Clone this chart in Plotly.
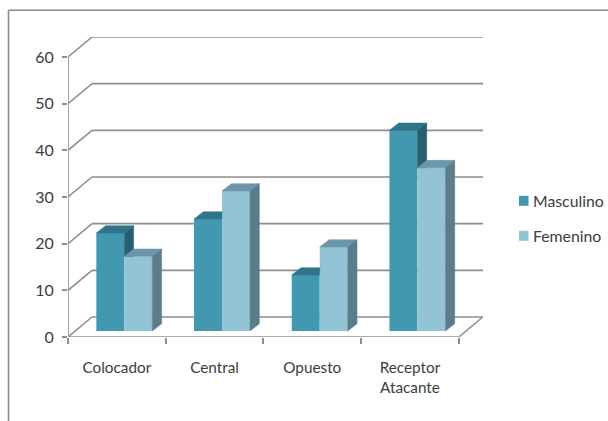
import plotly.graph_objects as go

categories = ["Colocador", "Central", "Opuesto", "Receptor<br>Atacante"]
masculino = [21, 24, 12, 43]
femenino = [16, 30, 18, 35]
y_ticks = [0, 10, 20, 30, 40, 50, 60]
series_names = ["Masculino", "Femenino"]

W, H = 608, 421
L, R, T, B = 68.0, 483.0, 36.7, 336.7
CAT_PX = 97.7
VAL_PX = 280 / 60
xmax = (R - L) / CAT_PX
ymax = (B - T) / VAL_PX
wall_dx, wall_dy = 24 / CAT_PX, 20 / VAL_PX       # depth of the floor
bar_dx, bar_dy = 9.3 / CAT_PX, 7.3 / VAL_PX       # depth of a bar
lift = 6 / VAL_PX                                 # bars stand on the floor
bar_w = 28 / CAT_PX
start = 0.29
n = len(categories)

C_LINE = "#8e8e8e"
M_FRONT, M_TOP, M_SIDE = "#4198b0", "#2f7488", "#265f6f"
F_FRONT, F_TOP, F_SIDE = "#93c4d6", "#6b97a8", "#5b7d8b"
TXT = "#3c3c3c"
FONT = "Lato"


def px_x(p):
    return (p - L) / (R - L)


def px_y(p):
    return (B - p) / (B - T)


def seg(x0, y0, x1, y1, width=1.6):
    return dict(type="line", xref="x", yref="y", x0=x0, y0=y0, x1=x1, y1=y1,
                layer="below", line=dict(color=C_LINE, width=width))


def face(xs, ys, color):
    return go.Scatter(x=xs + xs[:1], y=ys + ys[:1], mode="lines", fill="toself",
                      fillcolor=color, line=dict(color=color, width=0.5),
                      showlegend=False, hoverinfo="skip", cliponaxis=False)


shapes = []
for v in y_ticks:
    shapes.append(seg(wall_dx, v + wall_dy, xmax, v + wall_dy))
    shapes.append(seg(0, v, wall_dx, v + wall_dy))
shapes.append(seg(0, 0, 0, 60))
shapes.append(seg(0, 0, n, 0))
shapes.append(seg(n, 0, n + wall_dx, wall_dy))
# outer chart frame
shapes.append(dict(type="line", xref="paper", yref="paper", layer="below",
                   x0=px_x(8.5), x1=px_x(608), y0=px_y(10), y1=px_y(10),
                   line=dict(color="#8a8a8a", width=1.6)))
shapes.append(dict(type="line", xref="paper", yref="paper", layer="below",
                   x0=px_x(8.5), x1=px_x(8.5), y0=px_y(10), y1=px_y(421),
                   line=dict(color="#8a8a8a", width=1.6)))

# legend keys and labels
annotations = []
for name, color, yc in zip(series_names, [M_FRONT, F_FRONT], [200.5, 235.5]):
    shapes.append(dict(type="rect", xref="paper", yref="paper", layer="above",
                       x0=px_x(519), x1=px_x(528.5), y0=px_y(yc - 5), y1=px_y(yc + 5),
                       fillcolor=color, line_width=0))
    annotations.append(dict(xref="paper", yref="paper", x=px_x(533), y=px_y(yc),
                            xanchor="left", yanchor="middle", text=name, showarrow=False,
                            font=dict(family=FONT, size=15.8, color=TXT),
                            borderpad=0, borderwidth=0))

fig = go.Figure()
idx = list(range(n))
fig.add_trace(go.Bar(x=[i + start + bar_w / 2 for i in idx], y=masculino, base=lift,
                     width=bar_w, name=series_names[0], marker=dict(color=M_FRONT, line_width=0),
                     hoverinfo="y"))
fig.add_trace(go.Bar(x=[i + start + 1.5 * bar_w for i in idx], y=femenino, base=lift,
                     width=bar_w, name=series_names[1], marker=dict(color=F_FRONT, line_width=0),
                     hoverinfo="y"))

for i, m, f in zip(idx, masculino, femenino):
    x0 = i + start
    x1 = x0 + bar_w
    x2 = x1 + bar_w
    mt, ft = m + lift, f + lift
    if f >= m:
        # the taller Femenino bar hides the right part of the Masculino top
        fig.add_trace(face([x0, x1, x1, x0 + bar_dx],
                           [mt, mt, mt + bar_dy, mt + bar_dy], M_TOP))
    else:
        fig.add_trace(face([x1, x1, x1 + bar_dx, x1 + bar_dx],
                           [ft, mt, mt + bar_dy, ft], M_SIDE))
        fig.add_trace(face([x0, x1, x1 + bar_dx, x0 + bar_dx],
                           [mt, mt, mt + bar_dy, mt + bar_dy], M_TOP))
    fig.add_trace(face([x1, x2, x2 + bar_dx, x1 + bar_dx],
                       [ft, ft, ft + bar_dy, ft + bar_dy], F_TOP))
    fig.add_trace(face([x2, x2, x2 + bar_dx, x2 + bar_dx],
                       [lift, ft, ft + bar_dy, lift + bar_dy], F_SIDE))

fig.update_layout(
    width=W, height=H,
    autosize=False,
    showlegend=False,
    margin=dict(l=L, r=W - R, t=T, b=H - B, pad=0),
    paper_bgcolor="white", plot_bgcolor="rgba(0,0,0,0)",
    barmode="overlay",
    shapes=shapes,
    annotations=annotations,
    font=dict(family=FONT, size=15, color=TXT),
    xaxis=dict(range=[0, xmax], showgrid=False, zeroline=False, showline=False,
               tickmode="array", tickvals=[i + 0.5 for i in idx], ticktext=categories,
               ticks="", ticklabelstandoff=20, tickangle=0,
               tickfont=dict(family=FONT, size=15.3, color=TXT),
               minor=dict(tickmode="array", tickvals=list(range(n + 1)), ticks="outside",
                          ticklen=6, tickwidth=1.6, tickcolor=C_LINE, showgrid=False)),
    yaxis=dict(range=[0, ymax], showgrid=False, zeroline=False, showline=False,
               tickmode="array", tickvals=y_ticks, ticks="outside", ticklen=5,
               tickwidth=1.6, tickcolor=C_LINE, ticklabelstandoff=5,
               tickfont=dict(family=FONT, size=16, color=TXT)),
)

fig.write_html("out.html",
               config={"displayModeBar": False},
               post_script="document.body.style.margin='0';"
                           "document.documentElement.style.overflow='hidden';")
